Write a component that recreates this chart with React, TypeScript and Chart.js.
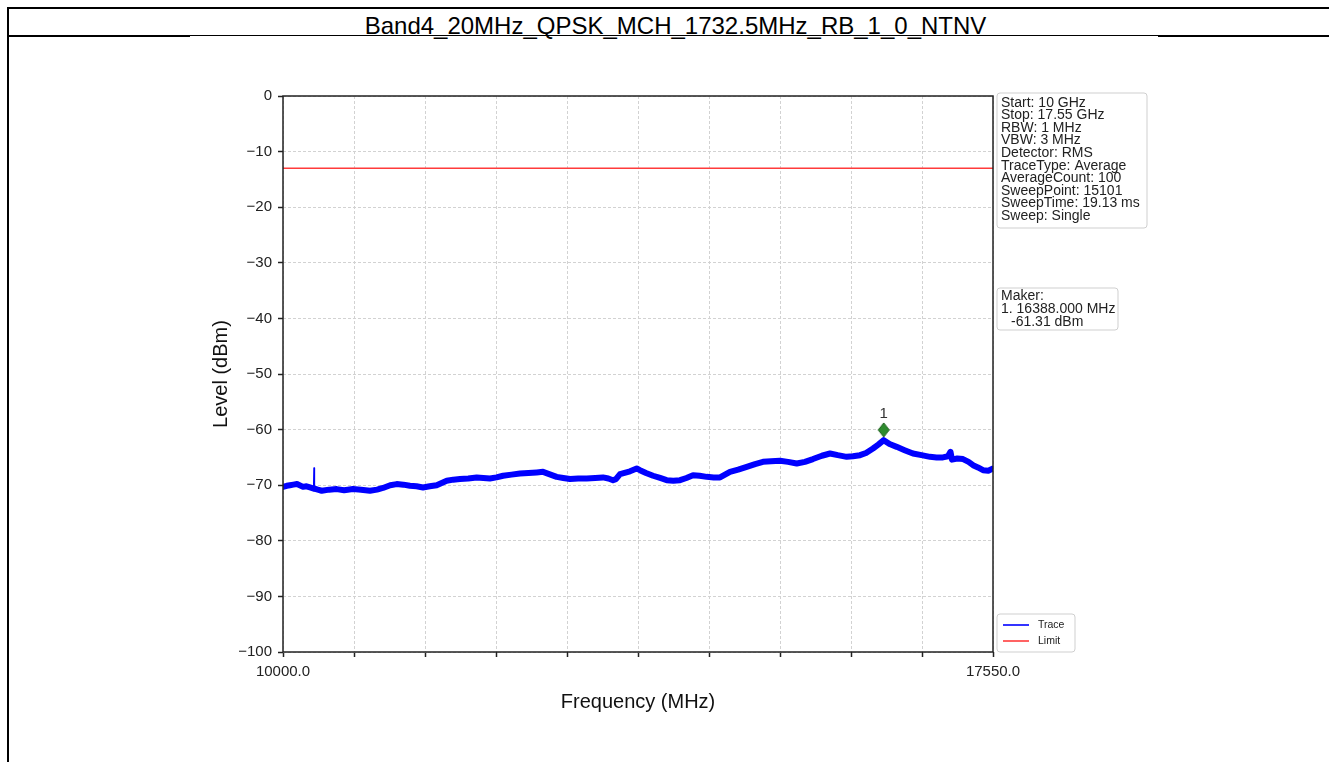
import React, { useEffect, useRef } from "react";
import { Chart, registerables } from "chart.js";

Chart.register(...registerables);

const TITLE = "Band4_20MHz_QPSK_MCH_1732.5MHz_RB_1_0_NTNV";
const X_LABEL = "Frequency (MHz)";
const Y_LABEL = "Level (dBm)";
const X_MIN = 10000;
const X_MAX = 17550;
const X_STEP = 755;
const Y_MIN = -100;
const Y_MAX = 0;
const Y_STEP = 10;

const TRACE_FREQ = [
  10000, 10040, 10074, 10110, 10149, 10213, 10250, 10287, 10326, 10330, 10334, 10370, 10412,
  10490, 10571, 10650, 10744, 10830, 10925, 11000, 11063, 11140, 11209, 11280, 11350, 11420,
  11489, 11560, 11634, 11741, 11810, 11882, 11970, 12060, 12130, 12201, 12270, 12340, 12430,
  12520, 12610, 12698, 12765, 12830, 12910, 12980, 13052, 13140, 13230, 13320, 13403, 13460,
  13509, 13540, 13584, 13690, 13761, 13796, 13860, 13935, 14010, 14080, 14150, 14222, 14290,
  14360, 14430, 14506, 14580, 14647, 14753, 14840, 14931, 15020, 15104, 15190, 15285, 15370,
  15463, 15550, 15636, 15730, 15817, 15900, 15994, 16060, 16136, 16200, 16274, 16330, 16388,
  16450, 16526, 16610, 16699, 16790, 16880, 16950, 17018, 17071, 17098, 17114, 17170, 17231,
  17290, 17338, 17390, 17444, 17500, 17550,
];
const TRACE_LEVEL = [
  -70.3, -70.1, -70.0, -69.9, -69.8, -70.3, -70.2, -70.4, -70.6, -66.9, -70.6, -70.8, -71.0,
  -70.8, -70.7, -70.9, -70.7, -70.8, -71.0, -70.8, -70.5, -70.0, -69.8, -69.9, -70.1, -70.2,
  -70.4, -70.2, -70.0, -69.2, -69.0, -68.9, -68.8, -68.6, -68.7, -68.8, -68.6, -68.3, -68.1,
  -67.9, -67.8, -67.7, -67.6, -68.0, -68.5, -68.7, -68.9, -68.8, -68.8, -68.7, -68.6, -68.8,
  -69.1, -68.9, -68.0, -67.5, -67.0, -67.3, -67.8, -68.3, -68.7, -69.1, -69.2, -69.1, -68.7,
  -68.2, -68.3, -68.5, -68.6, -68.6, -67.6, -67.2, -66.7, -66.2, -65.8, -65.7, -65.6, -65.8,
  -66.1, -65.8, -65.3, -64.7, -64.3, -64.6, -64.9, -64.8, -64.6, -64.2, -63.4, -62.7, -61.9,
  -62.6, -63.1, -63.7, -64.3, -64.6, -64.9, -65.0, -65.0, -64.8, -64.0, -65.4, -65.2, -65.3,
  -65.8, -66.4, -66.8, -67.3, -67.4, -67.0,
];
const SPIKE_FREQ = 10330;

const LIMIT_LEVEL = -13;

const MARKER_FREQ = 16388;
const MARKER_LEVEL = -61.31;
const MARKER_LABEL = "1";

const INFO_LINES = [
  "Start: 10 GHz",
  "Stop: 17.55 GHz",
  "RBW: 1 MHz",
  "VBW: 3 MHz",
  "Detector: RMS",
  "TraceType: Average",
  "AverageCount: 100",
  "SweepPoint: 15101",
  "SweepTime: 19.13 ms",
  "Sweep: Single",
];
const MARKER_LINES = ["Maker:", "1. 16388.000 MHz", "-61.31 dBm"];
const LEGEND_LABELS = ["Trace", "Limit"];

const FONT = '"Liberation Sans", Arial, Helvetica, sans-serif';
const TRACE_COLOR = "#0000ff";
const LIMIT_COLOR = "#ff3b3b";

function makeDiamond(): HTMLCanvasElement {
  const c = document.createElement("canvas");
  c.width = 14;
  c.height = 46;
  const g = c.getContext("2d")!;
  const cx = 7;
  const cy = 16;
  g.beginPath();
  g.moveTo(cx, cy - 7);
  g.lineTo(cx + 5.5, cy);
  g.lineTo(cx, cy + 7);
  g.lineTo(cx - 5.5, cy);
  g.closePath();
  g.fillStyle = "#2e8b2e";
  g.fill();
  g.strokeStyle = "#1d5f1d";
  g.lineWidth = 1;
  g.stroke();
  return c;
}

function roundBox(ctx: CanvasRenderingContext2D, x: number, y: number, w: number, h: number) {
  const r = 3;
  ctx.beginPath();
  ctx.moveTo(x + r, y);
  ctx.lineTo(x + w - r, y);
  ctx.quadraticCurveTo(x + w, y, x + w, y + r);
  ctx.lineTo(x + w, y + h - r);
  ctx.quadraticCurveTo(x + w, y + h, x + w - r, y + h);
  ctx.lineTo(x + r, y + h);
  ctx.quadraticCurveTo(x, y + h, x, y + h - r);
  ctx.lineTo(x, y + r);
  ctx.quadraticCurveTo(x, y, x + r, y);
  ctx.closePath();
  ctx.fillStyle = "rgba(255,255,255,0.9)";
  ctx.fill();
  ctx.strokeStyle = "#cfcfcf";
  ctx.lineWidth = 1;
  ctx.stroke();
}

const decorPlugin = {
  id: "decor",
  afterDraw(chart: any) {
    const { ctx, chartArea: a } = chart;
    ctx.save();
    ctx.strokeStyle = "#222";
    ctx.lineWidth = 1.5;
    ctx.strokeRect(a.left, a.top, a.right - a.left, a.bottom - a.top);

    const meta = chart.getDatasetMeta(2);
    const pt = meta.data[0];
    if (pt) {
      ctx.font = `15px ${FONT}`;
      ctx.fillStyle = "#333";
      ctx.textAlign = "center";
      ctx.textBaseline = "middle";
      ctx.fillText(MARKER_LABEL, pt.x, pt.y - 23);
    }

    const bx = a.right + 4;
    ctx.textAlign = "left";
    ctx.textBaseline = "alphabetic";

    roundBox(ctx, bx, a.top - 3, 150, 135);
    ctx.fillStyle = "#222";
    ctx.font = `14px ${FONT}`;
    INFO_LINES.forEach((t, i) => ctx.fillText(t, bx + 4, a.top + 10.5 + i * 12.6));

    roundBox(ctx, bx, a.top + 192, 121, 42);
    ctx.fillStyle = "#222";
    MARKER_LINES.forEach((t, i) =>
      ctx.fillText(t, bx + 4 + (i === 2 ? 10 : 0), a.top + 204 + i * 13)
    );

    const lh = 38;
    const ly = a.bottom - lh;
    roundBox(ctx, bx, ly, 78, lh);
    const colors = [TRACE_COLOR, LIMIT_COLOR];
    ctx.font = `10.5px ${FONT}`;
    LEGEND_LABELS.forEach((t, i) => {
      const yy = ly + 11 + i * 16;
      ctx.strokeStyle = colors[i];
      ctx.lineWidth = 1.6;
      ctx.beginPath();
      ctx.moveTo(bx + 6, yy);
      ctx.lineTo(bx + 32, yy);
      ctx.stroke();
      ctx.fillStyle = "#222";
      ctx.textBaseline = "middle";
      ctx.fillText(t, bx + 41, yy);
    });
    ctx.restore();
  },
};

function ChartView() {
  const ref = useRef<HTMLCanvasElement | null>(null);
  useEffect(() => {
    if (!ref.current) return;
    Chart.defaults.font.family = FONT;
    const diamond = makeDiamond();
    const chart = new Chart(ref.current, {
      type: "line",
      data: {
        datasets: [
          {
            label: LEGEND_LABELS[0],
            data: TRACE_FREQ.map((f, i) => ({ x: f, y: TRACE_LEVEL[i] })),
            borderColor: TRACE_COLOR,
            borderWidth: 6,
            pointRadius: 0,
            tension: 0,
            borderJoinStyle: "round",
            borderCapStyle: "round",
            order: 1,
            segment: {
              borderWidth: (c: any) =>
                TRACE_FREQ[c.p0DataIndex] === SPIKE_FREQ || TRACE_FREQ[c.p1DataIndex] === SPIKE_FREQ
                  ? 1.5
                  : 6,
            },
          } as any,
          {
            label: LEGEND_LABELS[1],
            data: [
              { x: X_MIN, y: LIMIT_LEVEL },
              { x: X_MAX, y: LIMIT_LEVEL },
            ],
            borderColor: LIMIT_COLOR,
            borderWidth: 1.5,
            pointRadius: 0,
            order: 2,
          },
          {
            label: "Marker",
            data: [{ x: MARKER_FREQ, y: MARKER_LEVEL }],
            showLine: false,
            pointStyle: diamond as any,
            pointRadius: 7,
            order: 0,
          },
        ],
      },
      options: {
        animation: false,
        responsive: false,
        devicePixelRatio: 1,
        layout: { padding: { left: 190, right: 336, top: 96, bottom: 40 } },
        plugins: { legend: { display: false }, tooltip: { enabled: false }, title: { display: false } },
        scales: {
          x: {
            type: "linear",
            min: X_MIN,
            max: X_MAX,
            afterFit: (s: any) => {
              s.height = 70;
            },
            ticks: {
              stepSize: X_STEP,
              autoSkip: false,
              maxRotation: 0,
              padding: 6,
              color: "#222",
              font: { size: 15 },
              callback: (v: any) => (v === X_MIN || v === X_MAX ? Number(v).toFixed(1) : ""),
            },
            grid: {
              color: "#d2d2d2",
              lineWidth: 1,
              tickLength: 5,
              tickColor: "#222",
              tickWidth: 1.5,
            },
            border: { display: false, dash: [3, 2] },
            title: {
              display: true,
              text: X_LABEL,
              color: "#111",
              font: { size: 20 },
              padding: { top: 0, bottom: 8 },
            },
          },
          y: {
            type: "linear",
            min: Y_MIN,
            max: Y_MAX,
            afterFit: (s: any) => {
              s.width = 93;
            },
            ticks: {
              stepSize: Y_STEP,
              padding: 6,
              color: "#222",
              font: { size: 15 },
              callback: (v: any) => (v < 0 ? "\u2212" + Math.abs(v) : String(v)),
            },
            grid: {
              color: "#d2d2d2",
              lineWidth: 1,
              tickLength: 5,
              tickColor: "#222",
              tickWidth: 1.5,
            },
            border: { display: false, dash: [3, 2] },
            title: {
              display: true,
              text: Y_LABEL,
              color: "#111",
              font: { size: 20 },
              padding: { top: 19, bottom: 0 },
            },
          },
        },
      },
      plugins: [decorPlugin],
    });
    return () => chart.destroy();
  }, []);
  return (
    <canvas
      ref={ref}
      width={1329}
      height={762}
      style={{ position: "absolute", left: 0, top: 0, width: "1329px", height: "762px", display: "block" }}
    />
  );
}

export default function App() {
  const line = (l: number, t: number, w: number, h: number) => (
    <div style={{ position: "absolute", left: l, top: t, width: w, height: h, background: "#000" }} />
  );
  return (
    <div style={{ position: "absolute", left: 0, top: 0, width: 1329, height: 762, overflow: "hidden", background: "#fff" }}>
      {line(7, 7, 1322, 2)}
      {line(7, 7, 2, 755)}
      {line(7, 35, 183, 2)}
      {line(190, 35, 968, 1)}
      {line(1158, 35, 171, 2)}
      <div
        style={{
          position: "absolute",
          left: 0,
          top: 14,
          width: 1351,
          textAlign: "center",
          fontFamily: FONT,
          fontSize: 24,
          lineHeight: "24px",
          color: "#000",
          whiteSpace: "nowrap",
        }}
      >
        {TITLE}
      </div>
      <ChartView />
    </div>
  );
}
